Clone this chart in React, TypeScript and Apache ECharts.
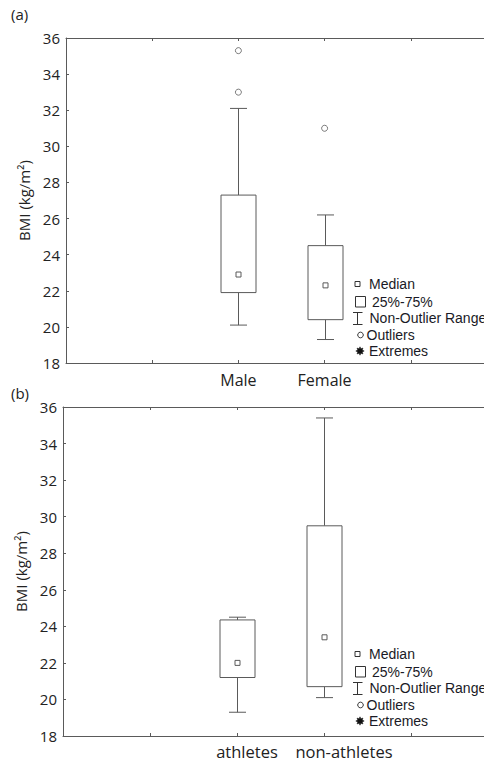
import React, { useEffect, useRef } from "react";
import * as echarts from "echarts";

// Panel (a): sex
const categoriesA = ["Male", "Female"];
const minA = [20.1, 19.3];
const q1A = [21.9, 20.4];
const medianA = [22.9, 22.3];
const q3A = [27.3, 24.5];
const maxA = [32.1, 26.2];
const outliersA = [
  ["Male", 35.3],
  ["Male", 33.0],
  ["Female", 31.0],
];

// Panel (b): athletes vs non-athletes
const categoriesB = ["athletes", "non-athletes"];
const minB = [19.3, 20.1];
const q1B = [21.2, 20.7];
const medianB = [22.0, 23.4];
const q3B = [24.35, 29.5];
const maxB = [24.5, 35.4];

const yMin = 18;
const yMax = 36;
const yInterval = 2;
const axisName = "BMI (kg/m²)";
const legendItems = ["Median", "25%-75%", "Non-Outlier Range", "Outliers", "Extremes"];

const OFFSET = 2; // category positions on the 0..5 axis
const LINE = "#5a5a5a";

function boxData(cats: string[], mn: number[], q1: number[], md: number[], q3: number[], mx: number[]) {
  return cats.map((_, i) => [i + OFFSET, mn[i], q1[i], md[i], q3[i], mx[i]]);
}

function renderBox(params: any, api: any) {
  const x = api.value(0);
  const pMin = api.coord([x, api.value(1)]);
  const pQ1 = api.coord([x, api.value(2)]);
  const pMed = api.coord([x, api.value(3)]);
  const pQ3 = api.coord([x, api.value(4)]);
  const pMax = api.coord([x, api.value(5)]);
  const cx = Math.round(pMed[0]) + 0.5;
  const half = 17.5;
  const cap = 8.5;
  const st = { stroke: LINE, lineWidth: 1, fill: null };
  return {
    type: "group",
    children: [
      { type: "line", shape: { x1: cx, y1: pQ3[1], x2: cx, y2: pMax[1] }, style: st },
      { type: "line", shape: { x1: cx - cap, y1: pMax[1], x2: cx + cap, y2: pMax[1] }, style: st },
      { type: "line", shape: { x1: cx, y1: pQ1[1], x2: cx, y2: pMin[1] }, style: st },
      { type: "line", shape: { x1: cx - cap, y1: pMin[1], x2: cx + cap, y2: pMin[1] }, style: st },
      {
        type: "rect",
        shape: { x: cx - half, y: pQ3[1], width: half * 2, height: pQ1[1] - pQ3[1] },
        style: { stroke: LINE, lineWidth: 1, fill: "#fff" },
      },
      {
        type: "rect",
        shape: { x: cx - 2.5, y: pMed[1] - 2.5, width: 5, height: 5 },
        style: { stroke: LINE, lineWidth: 1, fill: "#fff" },
      },
    ],
  };
}

function starPoints(cx: number, cy: number, ro: number, ri: number, n: number) {
  const pts: number[][] = [];
  for (let i = 0; i < n * 2; i++) {
    const r = i % 2 === 0 ? ro : ri;
    const a = (Math.PI * i) / n - Math.PI / 2;
    pts.push([cx + r * Math.cos(a), cy + r * Math.sin(a)]);
  }
  return pts;
}

function legend(y0: number) {
  const tStyle = (txt: string) => ({
    text: txt,
    fill: "#1a1a26",
    fontFamily: "Liberation Sans",
    fontSize: 14,
    verticalAlign: "middle",
    align: "left",
  });
  const mk = { stroke: "#333", lineWidth: 1, fill: "#fff" };
  return [
    { type: "rect", shape: { x: 355, y: y0 - 2.5, width: 5, height: 5 }, style: mk },
    { type: "text", x: 369, y: y0, style: tStyle(legendItems[0]) },
    { type: "rect", shape: { x: 355.5, y: y0 + 12.5, width: 10, height: 10.5 }, style: mk },
    { type: "text", x: 372, y: y0 + 17.7, style: tStyle(legendItems[1]) },
    { type: "line", shape: { x1: 357.5, y1: y0 + 28.5, x2: 357.5, y2: y0 + 40.5 }, style: mk },
    { type: "line", shape: { x1: 353, y1: y0 + 28.5, x2: 362.5, y2: y0 + 28.5 }, style: mk },
    { type: "line", shape: { x1: 353, y1: y0 + 40.5, x2: 362.5, y2: y0 + 40.5 }, style: mk },
    { type: "text", x: 369.5, y: y0 + 34.3, style: tStyle(legendItems[2]) },
    { type: "circle", shape: { cx: 360.5, cy: y0 + 51, r: 2.8 }, style: mk },
    { type: "text", x: 366.5, y: y0 + 51, style: tStyle(legendItems[3]) },
    {
      type: "polygon",
      shape: { points: starPoints(360, y0 + 67, 4.2, 2.4, 8) },
      style: { fill: "#111", stroke: "#111", lineWidth: 0.5 },
    },
    { type: "text", x: 369, y: y0 + 67, style: tStyle(legendItems[4]) },
  ];
}

export default function App() {
  const ref = useRef<HTMLDivElement>(null);
  useEffect(() => {
    if (!ref.current) return;
    const chart = echarts.init(ref.current, null, { renderer: "svg" });
    const axisLine = { show: true, lineStyle: { color: LINE, width: 1 } };
    const tick = { show: true, inside: true, length: 3, lineStyle: { color: LINE } };
    const yLabel = { fontFamily: "Open Sans", fontSize: 15, color: "#222", margin: 6 };

    const xBase = (grid: number, labelsFn: any, extra: any = {}) => ({
      type: "value",
      gridIndex: grid,
      min: 0,
      max: 5,
      interval: 1,
      axisLine,
      axisTick: tick,
      splitLine: { show: false },
      ...extra,
      axisLabel: labelsFn,
    });

    const yBase = (grid: number) => ({
      type: "value",
      gridIndex: grid,
      min: yMin,
      max: yMax,
      interval: yInterval,
      axisLine,
      axisTick: tick,
      splitLine: { show: false },
      axisLabel: yLabel,
      name: axisName,
      nameLocation: "middle",
      nameGap: 33,
      nameTextStyle: { fontFamily: "Open Sans", fontSize: 15, color: "#222" },
    });

    const option: any = {
      animation: false,
      backgroundColor: "#fff",
      grid: [
        { left: 66, top: 38, width: 431, height: 325 },
        { left: 63, top: 407, width: 435, height: 329 },
      ],
      xAxis: [
        xBase(0, {
          fontFamily: "Open Sans",
          fontSize: 16,
          color: "#222",
          margin: 9,
          formatter: (v: number) => categoriesA[v - OFFSET] ?? "",
        }),
        xBase(0, { show: false }, { position: "top" }),
        xBase(1, {
          fontFamily: "Open Sans",
          fontSize: 16.5,
          color: "#222",
          margin: 7,
          formatter: (v: number) => {
            const i = v - OFFSET;
            if (i === 0) return "{a|" + categoriesB[0] + "}";
            if (i === 1) return "{b|" + categoriesB[1] + "}";
            return "";
          },
          rich: {
            a: { fontFamily: "Open Sans", fontSize: 16.5, color: "#222", padding: [0, 0, 0, 20] },
            b: { fontFamily: "Open Sans", fontSize: 16.5, color: "#222", padding: [0, 0, 0, 40] },
          },
        }),
        xBase(1, { show: false }, { position: "top" }),
      ],
      yAxis: [yBase(0), yBase(1)],
      series: [
        {
          type: "custom",
          xAxisIndex: 0,
          yAxisIndex: 0,
          renderItem: renderBox,
          data: boxData(categoriesA, minA, q1A, medianA, q3A, maxA),
          z: 3,
        },
        {
          type: "scatter",
          xAxisIndex: 0,
          yAxisIndex: 0,
          symbol: "circle",
          symbolSize: 6,
          itemStyle: { color: "#fff", borderColor: LINE, borderWidth: 1 },
          data: outliersA.map((o) => [categoriesA.indexOf(o[0] as string) + OFFSET, o[1]]),
          z: 4,
        },
        {
          type: "custom",
          xAxisIndex: 2,
          yAxisIndex: 1,
          renderItem: renderBox,
          data: boxData(categoriesB, minB, q1B, medianB, q3B, maxB),
          z: 3,
        },
      ],
      graphic: [
        {
          type: "text",
          x: 11,
          y: 14,
          style: { text: "(a)", fontFamily: "Open Sans", fontSize: 15, fill: "#222", verticalAlign: "middle" },
        },
        {
          type: "text",
          x: 11,
          y: 393,
          style: { text: "(b)", fontFamily: "Open Sans", fontSize: 15, fill: "#222", verticalAlign: "middle" },
        },
        ...legend(284),
        ...legend(654),
      ],
    };
    chart.setOption(option);
    return () => chart.dispose();
  }, []);

  return (
    <div style={{ position: "fixed", left: 0, top: 0, width: 484, height: 765, overflow: "hidden", background: "#fff" }}>
      <div ref={ref} style={{ width: 510, height: 765 }} />
    </div>
  );
}
